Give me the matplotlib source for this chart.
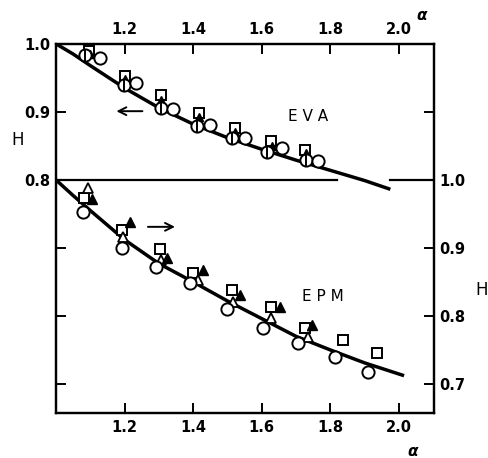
import numpy as np
import matplotlib
matplotlib.use("Agg")
import matplotlib.pyplot as plt

plt.rcParams['font.family'] = ['DejaVu Sans']
plt.rcParams['font.weight'] = 'bold'

# EVA (left axis) - plotted shifted up by EVA_SHIFT so both panels share one frame
EVA_SHIFT = 0.2
eva_curve_x = [1.0, 1.05, 1.1, 1.2, 1.3, 1.4, 1.5, 1.6, 1.7, 1.8, 1.9, 1.97]
eva_curve_h = [1.0, 0.985, 0.968, 0.935, 0.906, 0.882, 0.862, 0.845, 0.829, 0.814, 0.799, 0.787]
eva_circ_x = [1.086, 1.198, 1.305, 1.412, 1.512, 1.615, 1.729]
eva_circ_h = [0.984, 0.940, 0.906, 0.879, 0.862, 0.841, 0.829]
eva_circ2_x = [1.127, 1.232, 1.340, 1.448, 1.550, 1.658, 1.763]
eva_circ2_h = [0.979, 0.943, 0.904, 0.881, 0.862, 0.847, 0.828]
eva_sq_x = [1.095, 1.200, 1.305, 1.416, 1.521, 1.627, 1.726]
eva_sq_h = [0.990, 0.953, 0.925, 0.899, 0.876, 0.857, 0.844]
eva_tri_x = [1.098, 1.202, 1.307, 1.418, 1.523, 1.630, 1.728]
eva_tri_h = [0.985, 0.948, 0.918, 0.893, 0.870, 0.850, 0.839]

# EPM (right axis)
epm_curve_x = [1.0, 1.05, 1.1, 1.2, 1.3, 1.4, 1.5, 1.6, 1.7, 1.8, 1.9, 2.01]
epm_curve_h = [1.0, 0.977, 0.955, 0.912, 0.877, 0.850, 0.822, 0.796, 0.770, 0.750, 0.731, 0.713]
epm_circ_x = [1.080, 1.191, 1.293, 1.390, 1.500, 1.603, 1.705, 1.813, 1.909]
epm_circ_h = [0.953, 0.900, 0.872, 0.849, 0.810, 0.782, 0.760, 0.740, 0.718]
epm_sq_x = [1.083, 1.191, 1.302, 1.400, 1.512, 1.626, 1.726, 1.836, 1.935]
epm_sq_h = [0.974, 0.926, 0.899, 0.863, 0.838, 0.813, 0.782, 0.765, 0.746]
epm_otri_x = [1.092, 1.194, 1.307, 1.415, 1.515, 1.626, 1.735]
epm_otri_h = [0.988, 0.916, 0.882, 0.853, 0.821, 0.797, 0.769]
epm_ftri_x = [1.104, 1.215, 1.323, 1.428, 1.536, 1.653, 1.745]
epm_ftri_h = [0.972, 0.938, 0.885, 0.868, 0.831, 0.813, 0.787]

x_ticks = [1.2, 1.4, 1.6, 1.8, 2.0]

fig = plt.figure(figsize=(4.89, 4.58), dpi=100)
ax = fig.add_axes([0.1145, 0.0983, 0.773, 0.806])
ax.set_xlim(1.0, 2.102)
ax.set_ylim(0.6574, 1.2)

def shift(vals):
    return [v + EVA_SHIFT for v in vals]

# curves
ax.plot(eva_curve_x, shift(eva_curve_h), color='black', lw=2.5, zorder=3)
ax.plot(epm_curve_x, epm_curve_h, color='black', lw=2.5, zorder=3)

# divider line between the two panels (broken where the EVA curve ends)
ax.plot([1.0, 1.82], [1.0, 1.0], color='black', lw=1.6)
ax.plot([1.975, 2.102], [1.0, 1.0], color='black', lw=1.6)

mk = dict(linestyle='none', color='black', zorder=4)
# EVA markers
ax.plot(eva_sq_x, shift(eva_sq_h), marker='s', ms=7, mfc='white', mew=1.4, **mk)
ax.plot(eva_tri_x, shift(eva_tri_h), marker='^', ms=6, mfc='black', mew=1.0, **mk)
ax.plot(eva_circ_x, shift(eva_circ_h), marker='o', ms=8.8, mfc='white', mew=1.4, **mk)
ax.plot(eva_circ_x, shift(eva_circ_h), marker='|', ms=8.8, mew=1.4, **mk)
ax.plot(eva_circ2_x, shift(eva_circ2_h), marker='o', ms=8.8, mfc='white', mew=1.4, **mk)

# EPM markers
ax.plot(epm_sq_x, epm_sq_h, marker='s', ms=7, mfc='white', mew=1.4, **mk)
ax.plot(epm_otri_x, epm_otri_h, marker='^', ms=7, mfc='white', mew=1.3, **mk)
ax.plot(epm_ftri_x, epm_ftri_h, marker='^', ms=7, mfc='black', mew=1.0, **mk)
ax.plot(epm_circ_x, epm_circ_h, marker='o', ms=8.8, mfc='white', mew=1.4, **mk)

# arrows and labels
ax.annotate('', xy=(1.168, 1.101), xytext=(1.26, 1.101),
            arrowprops=dict(arrowstyle='->', color='black', lw=1.4, mutation_scale=14))
ax.annotate('', xy=(1.355, 0.931), xytext=(1.26, 0.931),
            arrowprops=dict(arrowstyle='->', color='black', lw=1.4, mutation_scale=14))
ax.text(1.734, 1.093, 'E V A', fontsize=11, fontweight='normal', ha='center', va='center')
ax.text(1.778, 0.828, 'E P M', fontsize=11, fontweight='normal', ha='center', va='center')

# spines and ticks
for s in ax.spines.values():
    s.set_linewidth(1.6)

ax.set_xticks(x_ticks)
ax.set_xticklabels([f"{t:.1f}" for t in x_ticks])
ax.tick_params(axis='x', direction='in', length=7, width=1.4, top=True,
               labeltop=True, labelsize=10.5, pad=5)

left_ticks = [0.7, 0.8, 0.9, 1.0, 1.1, 1.2]
ax.set_yticks(left_ticks)
ax.set_yticklabels([f"{t - EVA_SHIFT:.1f}" if t >= 1.0 else '' for t in left_ticks])
ax.tick_params(axis='y', direction='in', length=7, width=1.4, labelsize=10.5, pad=4)

axr = ax.twinx()
axr.set_ylim(ax.get_ylim())
right_ticks = [0.7, 0.8, 0.9, 1.0, 1.1]
axr.set_yticks(right_ticks)
axr.set_yticklabels([f"{t:.1f}" if t <= 1.0 else '' for t in right_ticks])
axr.tick_params(axis='y', direction='in', length=7, width=1.4, labelsize=10.5, pad=4)
for s in axr.spines.values():
    s.set_linewidth(1.6)

fig.text(18 / 489, 1 - 140 / 458, 'H', fontsize=12, fontweight='normal', ha='center', va='center')
fig.text(482 / 489, 1 - 290 / 458, 'H', fontsize=12, fontweight='normal', ha='center', va='center')
fig.text(422 / 489, 1 - 16 / 458, r'$\alpha$', fontsize=11, ha='center', va='center')
fig.text(413 / 489, 1 - 452 / 458, r'$\alpha$', fontsize=11, ha='center', va='center')

fig.savefig('out.png', dpi=100)
